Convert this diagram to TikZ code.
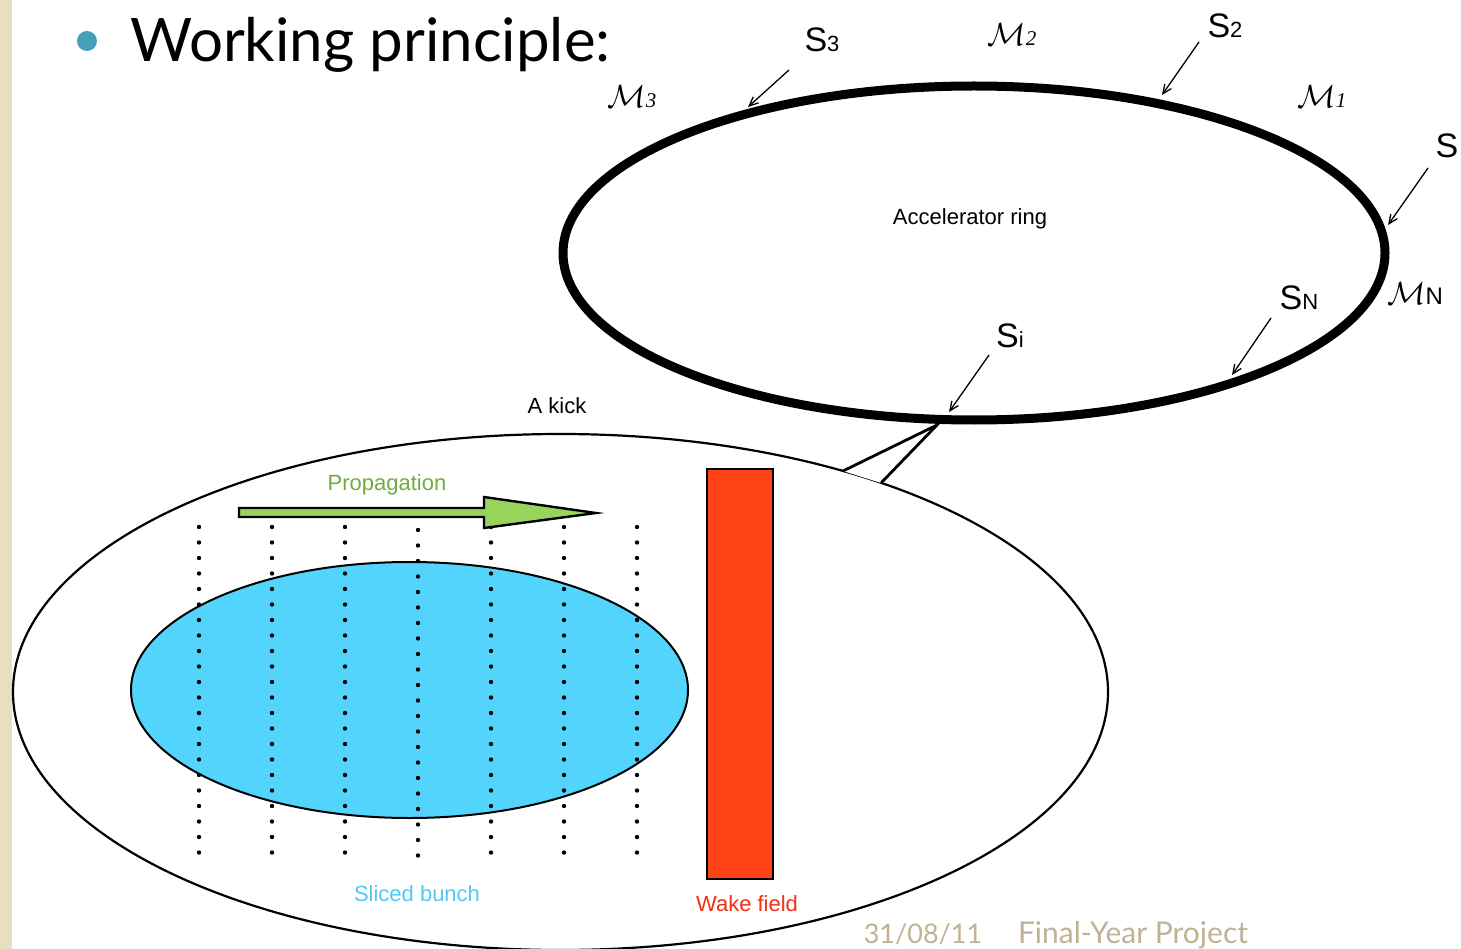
\documentclass[tikz,border=0pt]{standalone}
\usepackage{fix-cm}
\usepackage{fontspec}
\setmainfont{Liberation Sans}
\newfontfamily\gillfont{Lato}
\newfontfamily\serifit{Liberation Serif}
\definecolor{beamteal}{RGB}{68,160,185}
\definecolor{borderbeige}{RGB}{232,222,192}
\definecolor{bunchblue}{RGB}{82,212,252}
\definecolor{wakered}{RGB}{255,66,22}
\definecolor{propgreen}{RGB}{150,212,92}
\definecolor{proptext}{RGB}{112,172,64}
\definecolor{slicetext}{RGB}{82,200,245}
\definecolor{waketext}{RGB}{240,48,20}
\definecolor{footgrey}{RGB}{192,178,148}
\usetikzlibrary{arrows.meta,shapes.geometric}

\newcommand{\slabel}[1]{{\fontsize{34}{34}\selectfont S}{\fontsize{22}{22}\selectfont #1}}
\newcommand{\mlabel}[1]{{\fontsize{32}{32}\selectfont$\mathcal{M}$}{\fontsize{21}{21}\serifit\itshape #1}}

\begin{document}
\begin{tikzpicture}[
  x=1pt,y=-1pt,
  lbl/.style={anchor=base,inner sep=0pt,font=\fontsize{22}{22}\selectfont},
  ptr/.style={line width=1.3pt,-{Straight Barb[length=9pt,width=8pt]}},
  dotcol/.style={fill=black}
]
  \useasboundingbox (0,0) rectangle (1461,949);
  % slide frame
  \fill[borderbeige] (0,0) rectangle (12,949);
  \fill[beamteal] (87,41) circle (10pt);
  \node[anchor=base west,inner sep=0pt,font=\gillfont\fontsize{60}{60}\selectfont] (title) at (130,62) {Working principle:};

  % accelerator ring
  \draw[line width=9pt] (974,253) ellipse [x radius=411pt,y radius=167pt];
  \node[lbl] (ringlbl) at (970,225) {Accelerator ring};

  % sections on the ring
  \node[lbl] (s3) at (822,52) {\slabel{3}};
  \node[lbl] (s2) at (1225,38) {\slabel{2}};
  \node[lbl] (s1) at (1447,158) {\slabel{}};
  \node[lbl] (sn) at (1299,310) {\slabel{N}};
  \node[lbl] (si) at (1010,348) {\slabel{i}};
  \node[lbl] (m3) at (632,108) {\mlabel{3}};
  \node[lbl] (m2) at (1012,46) {\mlabel{2}};
  \node[lbl] (m1) at (1322,108) {\mlabel{1}};
  \node[lbl] (mn) at (1415,305) {{\fontsize{32}{32}\selectfont$\mathcal{M}$}{\fontsize{24}{24}\selectfont N}};

  \coordinate (t3) at (789,70);   \coordinate (p3) at (748,107);
  \coordinate (t2) at (1199,42);  \coordinate (p2) at (1162,95);
  \coordinate (t1) at (1428,168); \coordinate (p1) at (1388,225);
  \coordinate (tn) at (1271,318); \coordinate (pn) at (1232,375);
  \coordinate (ti) at (989,355);  \coordinate (pi) at (949,412);
  \draw[ptr] (t3) -- (p3);
  \draw[ptr] (t2) -- (p2);
  \draw[ptr] (t1) -- (p1);
  \draw[ptr] (tn) -- (pn);
  \draw[ptr] (ti) -- (pi);

  % the kick, zoomed in
  \node[lbl] (kick) at (557,413) {A kick};
  \draw[line width=2.2pt] (560.5,692) ellipse [x radius=547.5pt,y radius=258pt];
  \coordinate (k1) at (843,471);
  \coordinate (ktip) at (937,425);
  \coordinate (k2) at (881,483);
  \fill[white] (k1) -- (ktip) -- (k2) -- cycle;
  \draw[line width=2.8pt,line join=miter] (k1) -- (ktip) -- (k2);

  % bunch and slices
  \draw[line width=2pt,fill=bunchblue] (409.5,690) ellipse [x radius=278.5pt,y radius=128pt];
  \foreach \x/\y in {199/527,272/527,345/527,418/530,491/527,564/527,637/527}
    \foreach \k in {0,...,21}
      \fill[dotcol] (\x,\y+15.5*\k) circle (2.2pt);
  \node[lbl,text=slicetext] (bunchlbl) at (417,901) {Sliced bunch};

  % propagation arrow
  \draw[line width=2.4pt,fill=propgreen,line join=miter]
    (239,508) -- (484,508) -- (484,497) -- (596,513) -- (484,528) -- (484,517) -- (239,517) -- cycle;
  \node[lbl,text=proptext] (prop) at (387,490) {Propagation};

  % wake field
  \draw[line width=2pt,fill=wakered] (707,469) rectangle (773,879);
  \node[lbl,text=waketext] (wake) at (747,911) {Wake field};

  % footer
  \node[anchor=base,inner sep=0pt,text=footgrey,font=\gillfont\fontsize{27}{27}\selectfont] (date) at (923,943) {31/08/11};
  \node[anchor=base,inner sep=0pt,text=footgrey,font=\gillfont\fontsize{30}{30}\selectfont] (proj) at (1133,943) {Final-Year Project};
\end{tikzpicture}
\end{document}
